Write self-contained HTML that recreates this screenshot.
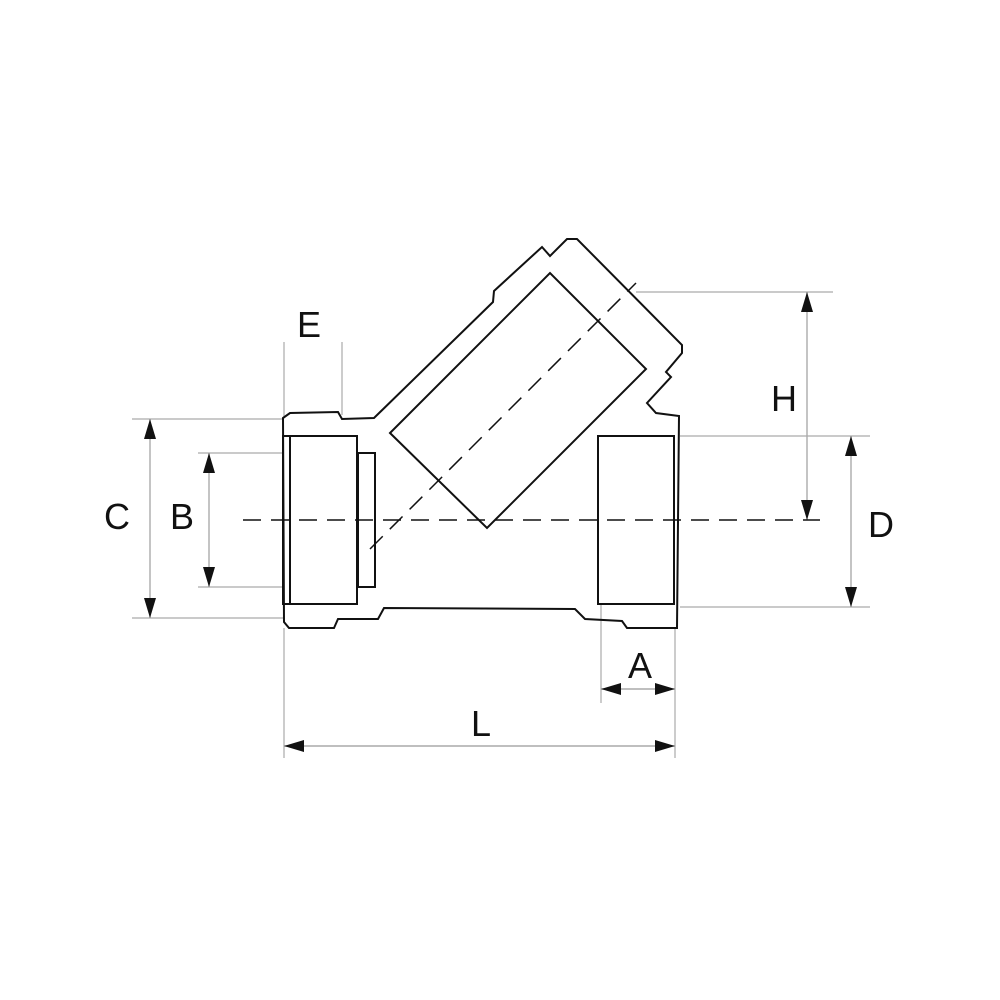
<!DOCTYPE html>
<html><head><meta charset="utf-8"><style>html,body{margin:0;padding:0;background:#fff}svg{display:block}</style></head>
<body>
<svg width="1000" height="1000" viewBox="0 0 1000 1000" xmlns="http://www.w3.org/2000/svg">
<defs>
<marker id="ah" viewBox="0 0 20 12" refX="20" refY="6" markerWidth="20" markerHeight="12" markerUnits="userSpaceOnUse" orient="auto-start-reverse">
<path d="M0,0 L20,6 L0,12 Z" fill="#111"/></marker>
</defs>
<g stroke="#aaa" stroke-width="1.2" fill="none">
<!-- extension lines -->
<line x1="132" y1="419" x2="284" y2="419"/>
<line x1="132" y1="618" x2="284" y2="618"/>
<line x1="198" y1="453" x2="284" y2="453"/>
<line x1="198" y1="587" x2="284" y2="587"/>
<line x1="284" y1="342" x2="284" y2="418"/>
<line x1="342" y1="342" x2="342" y2="415"/>
<line x1="636" y1="292" x2="833" y2="292"/>
<line x1="680" y1="436" x2="870" y2="436"/>
<line x1="680" y1="607" x2="870" y2="607"/>
<line x1="601" y1="605" x2="601" y2="703"/>
<line x1="675" y1="628" x2="675" y2="758"/>
<line x1="284" y1="628" x2="284" y2="758"/>
</g>
<g stroke="#aaa" stroke-width="1.4" fill="none">
<line x1="150" y1="419" x2="150" y2="618" marker-start="url(#ah)" marker-end="url(#ah)"/>
<line x1="209" y1="453" x2="209" y2="587" marker-start="url(#ah)" marker-end="url(#ah)"/>
<line x1="807" y1="292" x2="807" y2="520" marker-start="url(#ah)" marker-end="url(#ah)"/>
<line x1="851" y1="436" x2="851" y2="607" marker-start="url(#ah)" marker-end="url(#ah)"/>
<line x1="601" y1="689" x2="675" y2="689" marker-start="url(#ah)" marker-end="url(#ah)"/>
<line x1="284" y1="746" x2="675" y2="746" marker-start="url(#ah)" marker-end="url(#ah)"/>
</g>
<g stroke="#111" stroke-width="2" fill="none" stroke-linejoin="miter">
<path d="M283,418 L290,413 L338,412 L342,419 L374,418 L493,302 L494,291 L542,247 L550,256 L567,239 L577,239 L682,345 L682,353 L666,372 L671,377 L647,403 L656,413 L679,416 L677,628 L627,628 L622,621 L585,619 L575,609 L384,608 L378,619 L338,619 L334,628 L289,628 L284,622 Z"/>
<rect x="283" y="436" width="74" height="168"/>
<line x1="290" y1="436" x2="290" y2="604"/>
<rect x="358" y="453" width="17" height="134"/>
<rect x="598" y="436" width="76" height="168"/>
<path d="M390,433 L487,528 L646,369 L550,273 Z"/>
</g>
<g stroke="#111" stroke-width="1.5" fill="none" stroke-dasharray="18,10">
<line x1="243" y1="520" x2="820" y2="520"/>
<line x1="370" y1="549" x2="636" y2="283"/>
</g>
<g font-family="'Liberation Sans', sans-serif" font-size="36" fill="#111" text-anchor="middle">
<text x="117" y="529">C</text>
<text x="182" y="529">B</text>
<text x="309" y="337">E</text>
<text x="784" y="411">H</text>
<text x="881" y="537">D</text>
<text x="640" y="678">A</text>
<text x="481" y="736">L</text>
</g>
</svg>
</body></html>
